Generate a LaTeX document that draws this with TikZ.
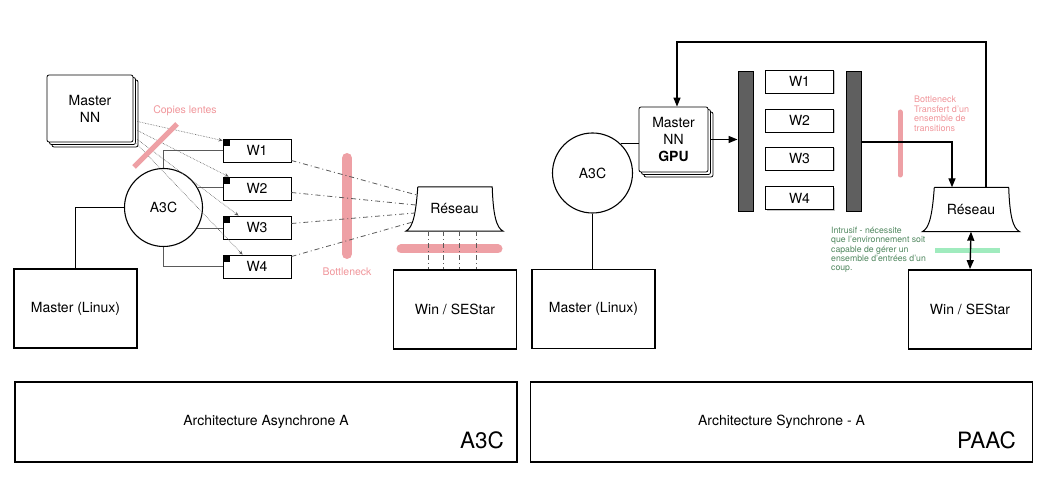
\documentclass[tikz,border=0pt]{standalone}
\usepackage{fontspec}
\setmainfont{TeX Gyre Heros}
\usepackage{tikz}
\usetikzlibrary{arrows.meta,positioning,shadows}
\definecolor{neckpink}{RGB}{238,160,165}
\definecolor{textpink}{RGB}{240,150,155}
\definecolor{mygreen}{RGB}{80,135,95}
\definecolor{lightgreen}{RGB}{160,235,190}
\definecolor{bargray}{RGB}{95,95,95}
\definecolor{linegray}{RGB}{90,90,90}

\begin{document}
\begin{tikzpicture}[x=1pt, y=-1pt,
    machine/.style={rectangle, draw, line width=1.8pt, minimum width=123, minimum height=79,
                font=\fontsize{14}{16}\selectfont},
    panel/.style={rectangle, draw, line width=1.6pt, minimum width=502, minimum height=80,
                font=\fontsize{14}{16}\selectfont},
    panelname/.style={inner sep=0pt, font=\fontsize{22.5}{24}\selectfont},
    worker/.style={rectangle, draw, line width=0.9pt, fill=white, minimum width=68, minimum height=23,
                inner sep=0pt, font=\fontsize{14}{16}\selectfont,
                drop shadow={shadow xshift=1.2pt, shadow yshift=-1.2pt, opacity=0.45}},
    agent/.style={circle, draw, line width=1.1pt, minimum size=78, font=\fontsize{14}{16}\selectfont},
    stack/.style={rectangle, rounded corners=2pt, draw, fill=white, line width=0.8pt, align=center,
                font=\fontsize{14}{17}\selectfont,
                double copy shadow={shadow xshift=2.5pt, shadow yshift=-2.5pt}},
    reseau/.style={rectangle, minimum width=97, minimum height=44, inner sep=0pt,
                font=\fontsize{14}{16}\selectfont},
    bar/.style={rectangle, draw, line width=1pt, fill=bargray, minimum width=15, minimum height=140,
                inner sep=0pt},
    pinknote/.style={inner sep=0pt, textpink, font=\fontsize{10.5}{12}\selectfont},
    greennote/.style={inner sep=0pt, mygreen, align=left, font=\fontsize{8.7}{9.3}\selectfont},
    link/.style={linegray, line width=0.8pt},
    copyline/.style={densely dotted, linegray, line width=0.6pt, -{Stealth[length=4pt,width=3.5pt]}},
    flow/.style={linegray, line width=0.8pt, dash pattern=on 5pt off 3pt on 1pt off 3pt},
    arr/.style={-{Triangle[length=9pt,width=7pt]}, black, line width=1.4pt},
    neck/.style={neckpink, line cap=round}]
\useasboundingbox (0,0) rectangle (1053,478);

% A3C
\node[stack, minimum width=86, minimum height=67] (mnnA) at (90,108.5) {Master\\NN};
\node[agent] (a3cA) at (163.5,207.5) {A3C};
\foreach \i/\y in {1/150.5,2/188.5,3/227.5,4/266.5}
  \node[worker] (wA\i) at (257,\y) {W\i};
\foreach \i in {1,...,4}
  \fill (wA\i.north west) rectangle +(7,7);
\node[reseau] (resA) at (454.5,209) {Réseau};
\node[machine] (winA) at (455,309.5) {Win / SEStar};
\node[machine] (linA) at (75.5,308.5) {Master (Linux)};
\node[panel] (panA) at (266,422) {Architecture Asynchrone A};
\node[panelname, anchor=base east] (nameA) at (504,448) {A3C};
\node[pinknote] (copA) at (185,111) {Copies lentes};
\node[pinknote] (botA) at (347,272) {Bottleneck};

% PAAC
\node[agent, minimum size=80] (a3cB) at (592.5,173) {A3C};
\node[stack, minimum width=69, minimum height=65] (mnnB) at (673.5,139.5) {Master\\NN\\\textbf{GPU}};
\node[bar] (barA) at (745.5,142) {};
\foreach \i/\y in {1/81.5,2/120.5,3/158.5,4/198}
  \node[worker] (wB\i) at (799.5,\y) {W\i};
\node[bar] (barB) at (853.5,142) {};
\node[reseau] (resB) at (971,209.5) {Réseau};
\node[machine] (winB) at (970,309.5) {Win / SEStar};
\node[machine] (linB) at (593.5,309) {Master (Linux)};
\node[panel] (panB) at (781.5,422) {Architecture Synchrone - A};
\node[panelname, anchor=base east] (nameB) at (1016,448) {PAAC};
\node[pinknote, anchor=north west, align=left, font=\fontsize{9}{9.6}\selectfont] (botB) at (914,96)
  {Bottleneck\\Transfert d'un\\ensemble de\\transitions};
\node[greennote, anchor=north west] (intB) at (831,227)
  {Intrusif - nécessite\\que l'environnement soit\\capable de gérer un\\ensemble d'entrées d'un\\coup.};

% forme des deux Réseau
\foreach \r in {resA,resB}
  \draw[line width=1pt] ([xshift=12]\r.north west) -- ([xshift=-11]\r.north east)
    .. controls ([xshift=-10,yshift=-28]\r.north east) and ([xshift=-7,yshift=-41]\r.north east) .. (\r.south east)
    -- (\r.south west)
    .. controls ([xshift=7,yshift=-41]\r.north west) and ([xshift=10,yshift=-28]\r.north west) .. ([xshift=12]\r.north west);

% goulots
\draw[neck, line width=10pt] (347,158) -- (347,254);
\draw[neck, line width=9pt] (401,249) -- (498,249);
\draw[neck, line width=5pt] (900,112) -- (900,175);
\draw[lightgreen, line width=5pt] (935,251) -- (1000,251);

% liens A3C
\draw[link] (a3cA.north) |- (wA1.west);
\draw[link] (a3cA.30) -- (a3cA.30 -| wA2.west);
\draw[link] (a3cA.-32) -- (a3cA.-32 -| wA3.west);
\draw[link] (a3cA.south) |- (wA4.west);
\draw[line width=1.3pt] (a3cA.west) -| (linA.north);
\draw[copyline] ([xshift=4,yshift=-13]mnnA.east) -- ([yshift=-2]wA1.north west);
\draw[copyline] ([xshift=4,yshift=-22]mnnA.east) -- ([xshift=6]wA2.north west);
\draw[copyline] ([xshift=4,yshift=-31]mnnA.east) -- ([xshift=16]wA3.north west);
\draw[copyline] ([xshift=2]mnnA.south east) -- ([xshift=20]wA4.north west);
\draw[neckpink, line width=5pt] (134,167) -- (177,124);
\draw[flow] ([yshift=-10]wA1.east) -- ([xshift=11,yshift=14]resA.west);
\draw[flow] ([yshift=-4]wA2.east) -- ([xshift=10,yshift=4]resA.west);
\draw[flow] ([yshift=4]wA3.east) -- ([xshift=9,yshift=-4]resA.west);
\draw[flow] ([yshift=10]wA4.east) -- ([xshift=7,yshift=-13]resA.west);
\foreach \d in {-26.5,-11.5,4.5,21.5}
  \draw[flow] ([xshift=\d]resA.south) -- ([xshift=\d]resA.south |- winA.north);

% liens PAAC
\draw[line width=1.3pt] (a3cB.46) -- (a3cB.46 -| mnnB.west);
\draw[line width=1.3pt] (a3cB.south) -- (a3cB.south |- linB.north);
\draw[arr] ([xshift=2]mnnB.east) -- (mnnB.east -| barA.west);
\draw[arr] (barB.east) -| ([xshift=-19]resB.north);
\coordinate (loopB) at (677,42);
\draw[arr] ([xshift=15]resB.north) |- (loopB) -- (loopB |- mnnB.north);
\draw[arr, {Triangle[length=9pt,width=7pt]}-{Triangle[length=9pt,width=7pt]}] (resB.south) -- (winB.north);
\end{tikzpicture}
\end{document}
